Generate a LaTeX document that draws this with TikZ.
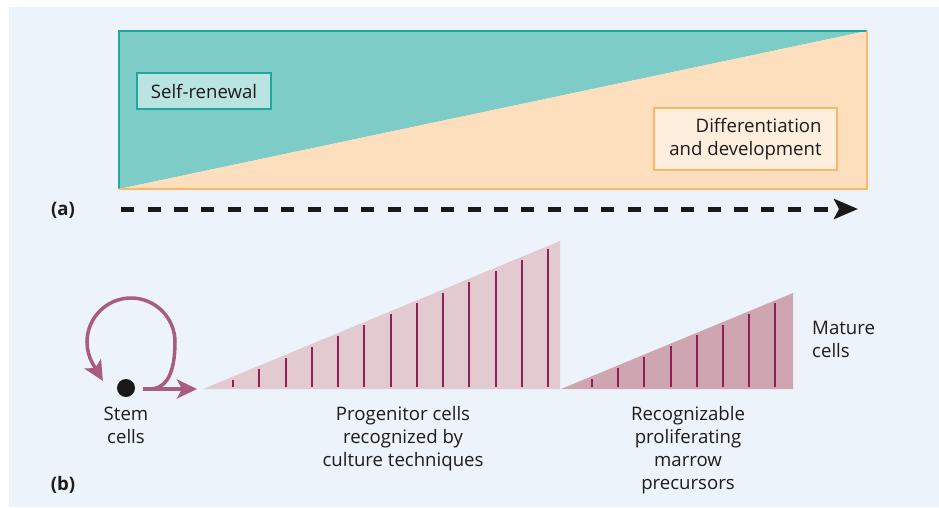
\documentclass[tikz,border=0pt]{standalone}
\usepackage{fontspec}
\setmainfont{Open Sans}
\usetikzlibrary{arrows.meta}
\definecolor{bgblue}{HTML}{ECF3FA}
\definecolor{tealfill}{HTML}{7DCCC7}
\definecolor{tealline}{HTML}{22A79D}
\definecolor{tealbox}{HTML}{BAE4E1}
\definecolor{orangefill}{HTML}{FDDFBD}
\definecolor{orangeline}{HTML}{F9B768}
\definecolor{orangebox}{HTML}{FEEEDE}
\definecolor{progfill}{HTML}{E3CAD1}
\definecolor{matfill}{HTML}{CEA5B0}
\definecolor{tickcol}{HTML}{8E1F57}
\definecolor{loopcol}{HTML}{A95C7D}
\definecolor{txtcol}{HTML}{1E1B1C}

\begin{document}
\begin{tikzpicture}[x=1pt, y=1pt,
	every node/.style={text=txtcol, font=\fontsize{18.6}{23}\selectfont},
	labelbox/.style={draw, line width=1.6pt, inner sep=0pt},
	celltext/.style={inner sep=0pt, align=center, anchor=north},
	tick/.style={tickcol, line width=2pt},
	stemarrow/.style={loopcol, line width=3.5pt, -{Stealth[length=20pt, width=19pt, inset=5pt]}}]
	\useasboundingbox (0,0) rectangle (939,-507);
	\fill[bgblue] (9,-7) rectangle (939,-507);
	
	\fill[tealfill] (119,-189) -- (119,-31) -- (867,-31) -- cycle;
	\fill[orangefill] (119,-189) -- (867,-189) -- (867,-31) -- cycle;
	\draw[tealline, line width=1.5pt] (119,-189) -- (119,-31) -- (867,-31);
	\draw[orangeline, line width=1.5pt] (119,-189) -- (867,-189) -- (867,-31);
	\node[labelbox, draw=tealline, fill=tealbox, minimum width=134pt, minimum height=36pt] (renew) at (204,-91) {Self-renewal};
	\node[labelbox, draw=orangeline, fill=orangebox, minimum width=183pt, minimum height=62pt, align=right] (diff) at (745.5,-139) {Differentiation\\and development};
	
	\node[font=\fontsize{18.6}{23}\selectfont\bfseries] (parta) at (63,-210) {(a)};
	\coordinate (tstart) at (121,-209);
	\coordinate (tend) at (858,-209);
	\draw[black!90, line width=5pt, dash pattern=on 13.33pt off 13.33pt, -{Stealth[length=24pt, width=20pt, inset=5pt]}] (tstart) -- (tend);
	
	\fill[progfill] (203,-389) -- (560,-241) -- (560,-389) -- cycle;
	\fill[matfill] (561,-389) -- (793,-293) -- (793,-389) -- cycle;
	\foreach \i in {0,...,12}
		\draw[tick] ({233+26.25*\i},-387) -- ({233+26.25*\i},{-379.6+10.88*\i});
	\foreach \i in {0,...,7}
		\draw[tick] ({592+26.2*\i},-387) -- ({592+26.2*\i},{-378.7+10.84*\i});
	
	\node[circle, fill=black!90, minimum size=18pt, inner sep=0pt] (stem) at (126,-388) {};
	\coordinate (progtip) at (203,-389);
	\draw[stemarrow, shorten <=8pt, shorten >=6pt] (stem.east |- progtip) -- (progtip);
	\draw[stemarrow] ([xshift=14pt]stem.east |- progtip) .. controls +(18,0) and +(0,-30) .. (175,-342) arc[start angle=0, end angle=210, radius=44pt] -- ++(10,-17);
	
	\node[celltext] (stemtxt) at (126,-407) {Stem\\cells};
	\node[celltext] (progtxt) at (403,-406) {Progenitor cells\\recognized by\\culture techniques};
	\node[celltext] (prectxt) at (688,-406) {Recognizable\\proliferating\\marrow\\precursors};
	\node[celltext, align=left, anchor=north west] (mattxt) at (812,-321) {Mature\\cells};
	\node[font=\fontsize{18.6}{23}\selectfont\bfseries] (partb) at (63,-485) {(b)};
\end{tikzpicture}
\end{document}
